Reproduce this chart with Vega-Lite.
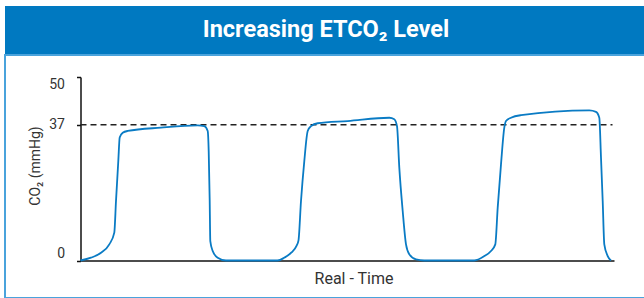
{
  "$schema": "https://vega.github.io/schema/vega-lite/v6.json",
  "padding": {"left": 4, "top": 6, "right": 0, "bottom": 0},
  "spacing": 0,
  "config": {"font": "Roboto", "axis": {"grid": false}, "concat": {"spacing": 0}},
  "datasets": {
    "heading": [{"title": "Increasing ETCO₂ Level"}],
    "reference": [{"etco2": 37}],
    "capnogram": [
      {"time": 0, "co2": 0}, {"time": 10.5, "co2": 0.76}, {"time": 20.5, "co2": 2.1}, {"time": 28.8, "co2": 4.4},
      {"time": 33.8, "co2": 7.6}, {"time": 35.5, "co2": 16.2}, {"time": 37.8, "co2": 27.1}, {"time": 39.2, "co2": 33.5},
      {"time": 42.2, "co2": 34.8}, {"time": 47.2, "co2": 35.3}, {"time": 80.5, "co2": 36.2}, {"time": 117.2, "co2": 36.8},
      {"time": 123.8, "co2": 36.6}, {"time": 127.2, "co2": 35.3}, {"time": 128.2, "co2": 29.8}, {"time": 129.2, "co2": 16.2},
      {"time": 129.8, "co2": 5.3}, {"time": 132.2, "co2": 2.6}, {"time": 137.2, "co2": 0.76}, {"time": 145.5, "co2": 0},
      {"time": 197, "co2": 0}, {"time": 204, "co2": 0.8}, {"time": 211, "co2": 2.2}, {"time": 216, "co2": 4.0},
      {"time": 218, "co2": 5.5}, {"time": 220.5, "co2": 16.2}, {"time": 223.8, "co2": 27.1}, {"time": 227.2, "co2": 35.3},
      {"time": 230.5, "co2": 36.6}, {"time": 237.2, "co2": 37.4}, {"time": 267.2, "co2": 38.0}, {"time": 308.8, "co2": 38.9},
      {"time": 313.8, "co2": 38.5}, {"time": 316.5, "co2": 36.6}, {"time": 318.8, "co2": 25.3}, {"time": 322.2, "co2": 13.5},
      {"time": 325.5, "co2": 4.4}, {"time": 328.8, "co2": 1.7}, {"time": 335.5, "co2": 0.3}, {"time": 343.8, "co2": 0},
      {"time": 393.8, "co2": 0}, {"time": 403.8, "co2": 1.2}, {"time": 410.5, "co2": 2.6}, {"time": 414.8, "co2": 4.4},
      {"time": 417.2, "co2": 14.4}, {"time": 420.5, "co2": 26.2}, {"time": 423.8, "co2": 36.2}, {"time": 425.5, "co2": 38.0},
      {"time": 430.5, "co2": 38.9}, {"time": 440.5, "co2": 39.6}, {"time": 508.8, "co2": 40.9}, {"time": 515.5, "co2": 40.5},
      {"time": 518.8, "co2": 38.9}, {"time": 520.5, "co2": 28.0}, {"time": 522.2, "co2": 16.2}, {"time": 523.8, "co2": 4.4},
      {"time": 527.2, "co2": 1.2}, {"time": 530.5, "co2": 0}
    ]
  },
  "vconcat": [
    {
      "width": 642,
      "height": 48,
      "view": {"fill": "#0079c1", "stroke": null},
      "data": {"name": "heading"},
      "mark": {"type": "text", "font": "Roboto", "fontSize": 23.5, "fontWeight": "bold", "color": "#ffffff", "baseline": "middle", "align": "center"},
      "encoding": {"text": {"field": "title", "type": "nominal"}}
    },
    {
      "width": 642,
      "height": 243,
      "view": {"stroke": "#4aa3dc", "strokeWidth": 2, "fill": "#ffffff"},
      "layer": [
        {
          "data": {"name": "reference"},
          "mark": {"type": "rule", "strokeDash": [6, 4], "color": "#222222", "strokeWidth": 1.5},
          "encoding": {
            "y": {"field": "etco2", "type": "quantitative"},
            "x": {"datum": 0},
            "x2": {"datum": 532}
          }
        },
        {
          "data": {"name": "capnogram"},
          "mark": {"type": "line", "interpolate": "monotone", "color": "#0a7bc4", "strokeWidth": 1.8},
          "encoding": {
            "x": {
              "field": "time", "type": "quantitative",
              "scale": {"domain": [0, 533.5], "range": [75.5, 609], "nice": false, "zero": false},
              "axis": {
                "title": "Real - Time", "offset": -37.5, "ticks": false, "labels": false,
                "domainColor": "#111111", "domainWidth": 1.5,
                "titleFontSize": 16, "titleFontWeight": "normal", "titleColor": "#333333",
                "titlePadding": 10, "titleX": 348.5
              }
            },
            "y": {
              "field": "co2", "type": "quantitative",
              "scale": {"domain": [0, 50], "range": [205.5, 22], "nice": false},
              "axis": {
                "title": "CO₂ (mmHg)", "values": [0, 37, 50], "offset": -75.5,
                "domainColor": "#111111", "domainWidth": 1.5,
                "tickColor": "#111111", "tickSize": 4, "tickWidth": 1.5,
                "labelFontSize": 14, "labelColor": "#333333", "labelFlush": true, "labelPadding": 12,
                "titleFontSize": 14, "titleFontWeight": "normal", "titleColor": "#333333",
                "titlePadding": 6, "titleY": 110.5
              }
            }
          }
        }
      ]
    }
  ]
}
